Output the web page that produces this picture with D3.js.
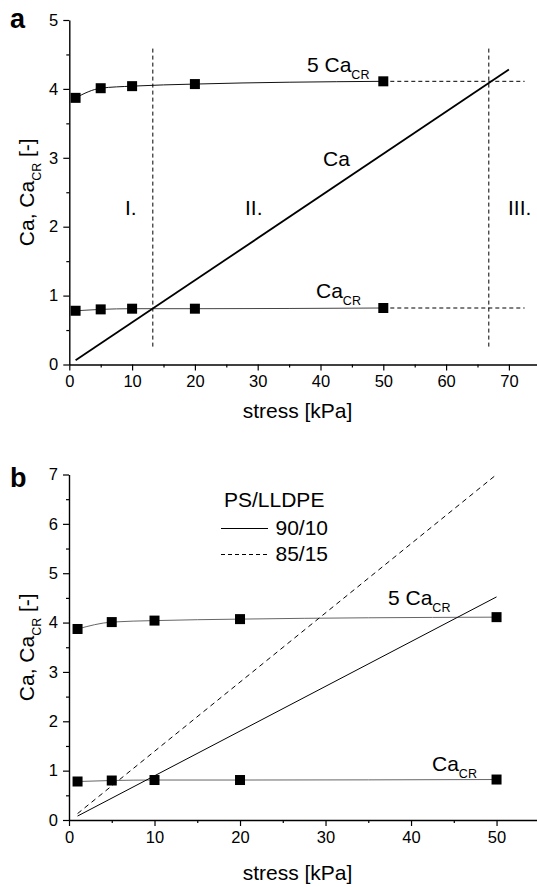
<!DOCTYPE html>
<html>
<head>
<meta charset="utf-8">
<script src="https://cdnjs.cloudflare.com/ajax/libs/d3/7.8.5/d3.min.js"></script>
<style>
  html, body { margin: 0; padding: 0; background: #fff; }
  svg { display: block; font-family: "Liberation Sans", Arial, sans-serif; }
</style>
</head>
<body>
<svg id="chart" width="537" height="887"></svg>
<script>
// ---------- data ----------
const stressPts = [1, 5, 10, 20, 50];
const caCR = [0.78, 0.80, 0.81, 0.81, 0.82];
const fiveCaCR = [3.87, 4.01, 4.04, 4.07, 4.11];

// panel a: Ca line (stress, Ca)
const caLineA = [[1, 0.06], [70, 4.28]];
const extensionEndA = 72.5;          // dashed continuation of fits
const regionBounds = [13.3, 66.8];    // vertical dashed lines (stress)
const regionRangeY = [0.26, 4.61];
const regionLabels = ["I.", "II.", "III."];

// panel b: Ca lines for blends
const blends = ["90/10", "85/15"];
const caLineB_9010 = [[1, 0.08], [50, 4.52]];
const caLineB_8515 = [[1, 0.13], [50, 7.0]];
const legendTitle = "PS/LLDPE";

const xTicksA = [0, 10, 20, 30, 40, 50, 60, 70];
const yTicksA = [0, 1, 2, 3, 4, 5];
const xTicksB = [0, 10, 20, 30, 40, 50];
const yTicksB = [0, 1, 2, 3, 4, 5, 6, 7];

// ---------- drawing ----------
const svg = d3.select("#chart");
const TICKFONT = 16.5;
const LABELFONT = 21;
const SUBFONT = 12.5;

function caText(g, x, y, prefix) {
  const t = g.append("text").attr("x", x).attr("y", y)
    .attr("font-size", LABELFONT).attr("fill", "#000");
  t.append("tspan").text(prefix + "Ca");
  t.append("tspan").attr("font-size", SUBFONT).attr("dy", 7).text("CR");
  return t;
}

function drawAxes(x, y, xTicks, yTicks, xMinor, yMinor, titleY) {
  const [y0] = y.range();
  const [x0] = x.range();
  // minor ticks
  svg.append("g").attr("transform", `translate(0,${y0})`)
    .call(d3.axisBottom(x).tickValues(xMinor).tickSize(3).tickFormat(""))
    .call(g => g.select(".domain").remove())
    .call(g => g.selectAll("line").attr("stroke", "#000").attr("stroke-width", 1.2));
  svg.append("g").attr("transform", `translate(${x0},0)`)
    .call(d3.axisLeft(y).tickValues(yMinor).tickSize(3).tickFormat(""))
    .call(g => g.select(".domain").remove())
    .call(g => g.selectAll("line").attr("stroke", "#000").attr("stroke-width", 1.2));
  // major
  const gx = svg.append("g").attr("transform", `translate(0,${y0})`)
    .call(d3.axisBottom(x).tickValues(xTicks).tickSize(6).tickSizeOuter(0).tickPadding(5).tickFormat(d3.format("d")));
  const gy = svg.append("g").attr("transform", `translate(${x0},0)`)
    .call(d3.axisLeft(y).tickValues(yTicks).tickSize(6).tickSizeOuter(0).tickPadding(5).tickFormat(d3.format("d")));
  [gx, gy].forEach(g => {
    g.selectAll("text").attr("font-size", TICKFONT).attr("font-family", "Liberation Sans, Arial, sans-serif").attr("fill", "#000");
    g.selectAll("line").attr("stroke", "#000").attr("stroke-width", 1.2);
    g.select(".domain").attr("stroke", "#000").attr("stroke-width", 1.4);
  });
  // x title
  svg.append("text").attr("x", 297.5).attr("y", titleY)
    .attr("text-anchor", "middle").attr("font-size", LABELFONT).text("stress [kPa]");
  // y title
  const yc = (y.range()[0] + y.range()[1]) / 2;
  const t = svg.append("text").attr("transform", `translate(34,${yc}) rotate(-90)`)
    .attr("text-anchor", "middle").attr("font-size", LABELFONT);
  t.append("tspan").text("Ca, Ca");
  t.append("tspan").attr("font-size", SUBFONT).attr("dy", 7).text("CR");
  t.append("tspan").attr("dy", -7).text(" [-]");
}

function drawMarkers(x, y, ys) {
  svg.append("g").selectAll("rect").data(stressPts.map((s, i) => [s, ys[i]])).join("rect")
    .attr("x", d => x(d[0]) - 5).attr("y", d => y(d[1]) - 5)
    .attr("width", 10).attr("height", 10).attr("fill", "#000");
}

const minorX = (max) => d3.range(5, max, 10);
const fitLine = (x, y) => d3.line().x(d => x(d[0])).y(d => y(d[1])).curve(d3.curveMonotoneX);
const straight = (x, y) => d3.line().x(d => x(d[0])).y(d => y(d[1]));

// ===== Panel a =====
const xA = d3.scaleLinear().domain([0, 75]).range([69.3, 540.3]);
const yA = d3.scaleLinear().domain([0, 5]).range([364.5, 20]);
drawAxes(xA, yA, xTicksA, yTicksA, minorX(75), d3.range(0.5, 5, 1), 418);

[caCR, fiveCaCR].forEach((ys, k) => {
  const pts = stressPts.map((s, i) => [s, ys[i]]);
  svg.append("path").attr("d", fitLine(xA, yA)(pts)).attr("fill", "none")
    .attr("stroke", k === 0 ? "#444" : "#111").attr("stroke-width", 1);
  const last = ys[ys.length - 1];
  svg.append("path").attr("d", straight(xA, yA)([[50, last], [extensionEndA, last]]))
    .attr("fill", "none").attr("stroke", "#000").attr("stroke-width", 1).attr("stroke-dasharray", "4,3");
});
regionBounds.forEach(b => {
  svg.append("path").attr("d", straight(xA, yA)([[b, regionRangeY[0]], [b, regionRangeY[1]]]))
    .attr("fill", "none").attr("stroke", "#000").attr("stroke-width", 1).attr("stroke-dasharray", "4,3");
});
svg.append("path").attr("d", straight(xA, yA)(caLineA)).attr("fill", "none")
  .attr("stroke", "#000").attr("stroke-width", 1.8);
drawMarkers(xA, yA, caCR);
drawMarkers(xA, yA, fiveCaCR);

// region labels
const regionX = [125, 245, 508];
regionLabels.forEach((l, i) => {
  svg.append("text").attr("x", regionX[i]).attr("y", 215).attr("font-size", LABELFONT).text(l);
});
svg.append("text").attr("x", 323).attr("y", 166).attr("font-size", LABELFONT).text("Ca");
caText(svg, 307, 71.5, "5 ");
caText(svg, 316, 298, "");
svg.append("text").attr("x", 10).attr("y", 28).attr("font-size", 27).attr("font-weight", "bold").text("a");

// ===== Panel b =====
const xB = d3.scaleLinear().domain([0, 55]).range([69, 539.3]);
const yB = d3.scaleLinear().domain([0, 7]).range([820, 474.5]);
drawAxes(xB, yB, xTicksB, yTicksB, minorX(55), d3.range(0.5, 7, 1), 880);

[caCR, fiveCaCR].forEach(ys => {
  const pts = stressPts.map((s, i) => [s, ys[i]]);
  svg.append("path").attr("d", fitLine(xB, yB)(pts)).attr("fill", "none")
    .attr("stroke", "#666").attr("stroke-width", 1);
});
svg.append("path").attr("d", straight(xB, yB)(caLineB_9010)).attr("fill", "none")
  .attr("stroke", "#000").attr("stroke-width", 1);
svg.append("path").attr("d", straight(xB, yB)(caLineB_8515)).attr("fill", "none")
  .attr("stroke", "#000").attr("stroke-width", 1).attr("stroke-dasharray", "5,4");
drawMarkers(xB, yB, caCR);
drawMarkers(xB, yB, fiveCaCR);

caText(svg, 388, 605, "5 ");
caText(svg, 432, 771, "");
svg.append("text").attr("x", 10).attr("y", 487).attr("font-size", 27).attr("font-weight", "bold").text("b");

// legend
svg.append("text").attr("x", 224).attr("y", 507).attr("font-size", LABELFONT).text(legendTitle);
blends.forEach((b, i) => {
  const ly = 528.5 + i * 26;
  svg.append("line").attr("x1", 221).attr("x2", 268).attr("y1", ly).attr("y2", ly)
    .attr("stroke", "#000").attr("stroke-width", 1)
    .attr("stroke-dasharray", i === 1 ? "4,3" : null);
  svg.append("text").attr("x", 275.5).attr("y", ly + 6.5).attr("font-size", LABELFONT).text(b);
});
</script>
</body>
</html>
